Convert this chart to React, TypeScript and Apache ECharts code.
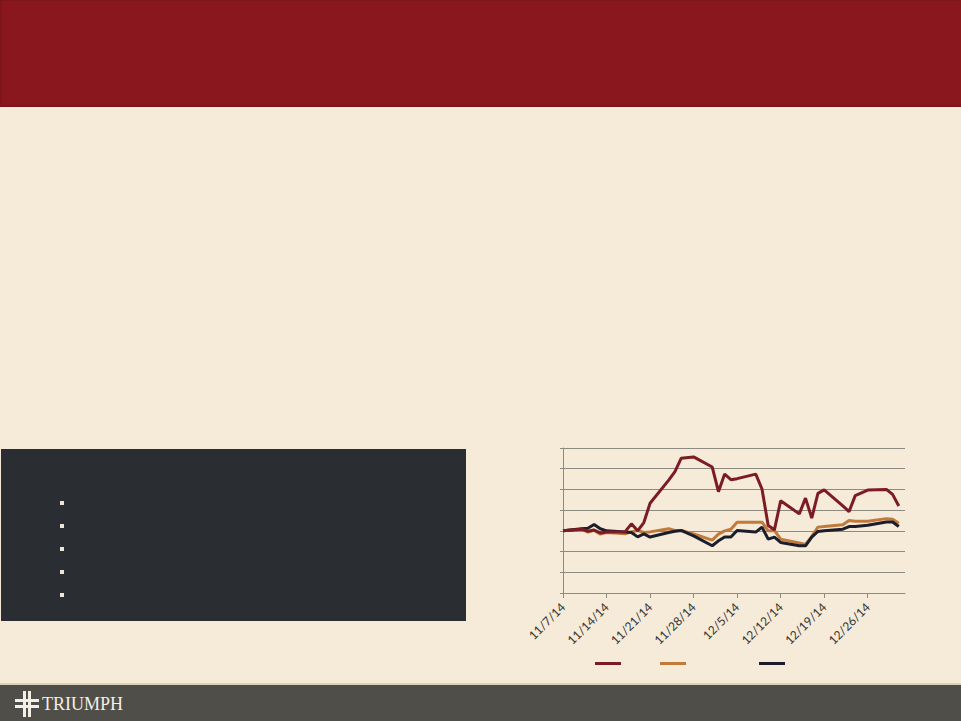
import React, { useEffect, useRef } from "react";
import * as echarts from "echarts";

// Trading days, Nov 7 – Dec 31, 2014
const dates = [
  "2014-11-07", "2014-11-10", "2014-11-11", "2014-11-12", "2014-11-13", "2014-11-14",
  "2014-11-17", "2014-11-18", "2014-11-19", "2014-11-20", "2014-11-21",
  "2014-11-24", "2014-11-25", "2014-11-26", "2014-11-28",
  "2014-12-01", "2014-12-02", "2014-12-03", "2014-12-04", "2014-12-05",
  "2014-12-08", "2014-12-09", "2014-12-10", "2014-12-11", "2014-12-12",
  "2014-12-15", "2014-12-16", "2014-12-17", "2014-12-18", "2014-12-19",
  "2014-12-22", "2014-12-23", "2014-12-24", "2014-12-26",
  "2014-12-29", "2014-12-30", "2014-12-31",
];

// Indexed performance (start = 100)
const redValues = [
  100, 100.8, 99.8, 100.4, 99.0, 99.4,
  99.6, 103.4, 100.0, 104.0, 113.3,
  124.5, 128.6, 135.0, 135.7,
  130.8, 118.9, 127.4, 124.7, 125.2,
  127.4, 120.2, 102.6, 100.5, 114.5,
  108.2, 115.8, 106.2, 118.1, 119.8,
  112.1, 109.3, 117.0, 119.7,
  120.0, 117.6, 112.0,
];
const orangeValues = [
  100, 100.8, 99.4, 100.3, 98.4, 99.2,
  98.6, 99.5, 100.2, 99.2, 99.5,
  101.0, 100.2, 100.2, 98.5,
  95.5, 98.4, 100.0, 100.8, 104.2,
  104.2, 104.2, 100.0, 100.2, 96.0,
  94.1, 93.4, 97.3, 101.8, 102.1,
  102.9, 105.0, 104.6, 104.6,
  105.9, 105.6, 103.7,
];
const blackValues = [
  100, 101.0, 101.3, 103.1, 101.0, 100.0,
  99.5, 99.2, 97.1, 98.5, 97.0,
  99.2, 99.8, 100.2, 97.6,
  92.8, 95.2, 97.0, 97.0, 100.2,
  99.4, 101.8, 96.0, 97.0, 94.4,
  92.8, 92.8, 97.0, 99.7, 100.0,
  100.8, 102.1, 102.1, 102.7,
  104.3, 104.3, 102.1,
];

const seriesNames = ["TGI", "Peer Group", "S&P 500"];
const seriesColors = ["#7d1b25", "#c27a3b", "#1c1d2b"];

const yMin = 70;
const yMax = 140;
const yStep = 10;
const xStepDays = 7;
const xMaxDays = 55;

const DAY = 86400000;
const startMs = Date.UTC(2014, 10, 7);
const dayOffset = (iso: string) => {
  const [y, m, d] = iso.split("-").map(Number);
  return Math.round((Date.UTC(y, m - 1, d) - startMs) / DAY);
};
const offsetLabel = (off: number) => {
  const dt = new Date(startMs + off * DAY);
  return `${dt.getUTCMonth() + 1}/${dt.getUTCDate()}/${String(dt.getUTCFullYear()).slice(2)}`;
};

const pairs = (vals: number[]) => dates.map((d, i) => [dayOffset(d), vals[i]]);

export default function App() {
  const ref = useRef<HTMLDivElement>(null);

  useEffect(() => {
    if (!ref.current) return;
    const chart = echarts.init(ref.current, null, { renderer: "svg" });

    const bulletYs = [503, 526, 549, 572, 595];
    const lineSeries = [
      { name: seriesNames[1], color: seriesColors[1], vals: orangeValues },
      { name: seriesNames[2], color: seriesColors[2], vals: blackValues },
      { name: seriesNames[0], color: seriesColors[0], vals: redValues },
    ];
    const legendLefts = [595, 660, 759];
    const logoFill = "#f4efe6";

    chart.setOption({
      animation: false,
      backgroundColor: "#f6ead8",
      graphic: [
        { type: "rect", z: -10, shape: { x: 0, y: 0, width: 961, height: 107 }, style: { fill: "#7e151b" } },
        { type: "rect", z: -9, shape: { x: 2, y: 1, width: 959, height: 104 }, style: { fill: "#8b171e" } },
        { type: "rect", z: -10, shape: { x: 1, y: 449, width: 465, height: 172 }, style: { fill: "#2a2d31" } },
        ...bulletYs.map((y) => ({
          type: "rect",
          z: -9,
          shape: { x: 60, y: y - 2, width: 4, height: 4 },
          style: { fill: "#efe5d6" },
        })),
        { type: "rect", z: -10, shape: { x: 0, y: 683, width: 961, height: 2 }, style: { fill: "#ddd0bb" } },
        { type: "rect", z: -10, shape: { x: 0, y: 685, width: 961, height: 36 }, style: { fill: "#4f4e49" } },
        // logo mark: double-barred cross
        { type: "rect", z: -9, shape: { x: 23, y: 691, width: 3, height: 26 }, style: { fill: logoFill } },
        { type: "rect", z: -9, shape: { x: 28, y: 691, width: 3, height: 26 }, style: { fill: logoFill } },
        { type: "rect", z: -9, shape: { x: 15, y: 699, width: 24, height: 3 }, style: { fill: logoFill } },
        { type: "rect", z: -9, shape: { x: 15, y: 705, width: 24, height: 3 }, style: { fill: logoFill } },
        { type: "rect", z: -8, shape: { x: 26, y: 702, width: 2, height: 3 }, style: { fill: "#4f4e49" } },
        {
          type: "text",
          z: -9,
          x: 42,
          y: 704,
          style: {
            text: "TRIUMPH",
            fill: logoFill,
            font: "18px 'Liberation Serif', 'DejaVu Serif', serif",
            verticalAlign: "middle",
          },
        },
      ],
      grid: { left: 563, top: 448, width: 342, height: 145 },
      legend: lineSeries
        .slice()
        .sort((a, b) => seriesNames.indexOf(a.name) - seriesNames.indexOf(b.name))
        .map((s, i) => ({
          data: [s.name],
          left: legendLefts[i],
          top: 662,
          padding: 0,
          icon: "rect",
          itemWidth: 26,
          itemHeight: 3,
          formatter: () => "",
          selectedMode: false,
        })),
      xAxis: {
        type: "value",
        min: 0,
        max: xMaxDays,
        interval: xStepDays,
        axisLine: { show: true, lineStyle: { color: "#8d8a84", width: 1 } },
        axisTick: { show: true, length: 5, lineStyle: { color: "#8d8a84" } },
        splitLine: { show: false },
        axisLabel: {
          rotate: 45,
          margin: 12,
          color: "#333333",
          fontSize: 12,
          fontFamily: "Lato, 'Open Sans', sans-serif",
          showMaxLabel: false,
          formatter: (v: number) => (v % xStepDays === 0 ? offsetLabel(v) : ""),
        },
      },
      yAxis: {
        type: "value",
        min: yMin,
        max: yMax,
        interval: yStep,
        axisLine: { show: true, lineStyle: { color: "#8d8a84", width: 1 } },
        axisTick: { show: true, length: 3, lineStyle: { color: "#8d8a84" } },
        axisLabel: { show: false },
        splitLine: { show: true, lineStyle: { color: "#8d8a84", width: 1 } },
      },
      series: lineSeries.map((s) => ({
        name: s.name,
        type: "line",
        data: pairs(s.vals),
        showSymbol: false,
        symbol: "none",
        color: s.color,
        lineStyle: { color: s.color, width: 3 },
      })),
    });

    return () => chart.dispose();
  }, []);

  return (
    <div
      ref={ref}
      style={{ position: "fixed", left: 0, top: 0, width: 961, height: 721 }}
    />
  );
}
